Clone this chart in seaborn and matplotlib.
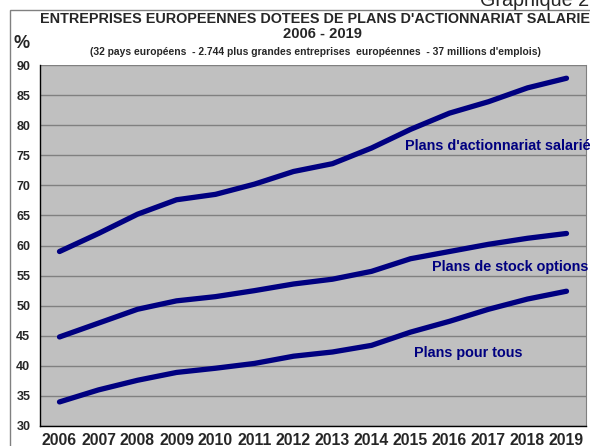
import pandas as pd
import numpy as np
import matplotlib
matplotlib.use("Agg")
import matplotlib.pyplot as plt
import seaborn as sns
from matplotlib.patches import Rectangle

# Données
annees = ["2006", "2007", "2008", "2009", "2010", "2011", "2012",
          "2013", "2014", "2015", "2016", "2017", "2018", "2019"]
actionnariat = [59.0, 62.0, 65.2, 67.6, 68.5, 70.2, 72.3,
                73.6, 76.2, 79.3, 82.0, 83.9, 86.2, 87.8]
stock_options = [44.8, 47.1, 49.4, 50.8, 51.5, 52.5, 53.6,
                 54.4, 55.7, 57.8, 59.0, 60.2, 61.2, 62.0]
pour_tous = [34.0, 36.0, 37.6, 38.9, 39.6, 40.4, 41.6,
             42.3, 43.4, 45.6, 47.4, 49.4, 51.1, 52.4]
series = ["Plans d'actionnariat salarié", "Plans de stock options", "Plans pour tous"]

df = pd.DataFrame({
    "pos": list(range(len(annees))) * 3,
    "valeur": actionnariat + stock_options + pour_tous,
    "serie": [s for s in series for _ in annees],
})

sns.set_style("white")
plt.rcParams["font.family"] = ["Liberation Sans", "DejaVu Sans"]

navy = "#000080"
fig = plt.figure(figsize=(5.9, 4.46), dpi=100)
ax = fig.add_axes([40 / 590, 20 / 446, 546 / 590, 361 / 446])
ax.set_facecolor("#c0c0c0")

sns.lineplot(data=df, x="pos", y="valeur", units="serie", estimator=None,
             color=navy, linewidth=3.8, solid_capstyle="round", ax=ax)

ax.set_xlim(-0.5, len(annees) - 0.5)
ax.set_ylim(30, 90)
ax.set_yticks(range(30, 91, 5))
ax.set_yticklabels([str(v) for v in range(30, 91, 5)], fontsize=9, fontweight="bold")
ax.set_xticks(range(len(annees)))
ax.set_xticklabels(annees, fontsize=11.3, fontweight="bold")
ax.set_xticks(np.arange(-0.5, len(annees), 1), minor=True)
ax.tick_params(axis="x", which="major", length=0, pad=5)
ax.tick_params(axis="x", which="minor", length=4, direction="out", color="black")
ax.tick_params(axis="y", length=4, direction="out", color="black", pad=3)
ax.set_xlabel("")
ax.set_ylabel("")
ax.grid(axis="y", color="#808080", linewidth=1)
ax.set_axisbelow(True)
for side in ["left", "bottom"]:
    ax.spines[side].set_color("black")
    ax.spines[side].set_linewidth(1)
ax.spines["right"].set_color("#808080")
ax.spines["top"].set_visible(False)

ax.text(8.85, 76.6, series[0], color=navy, fontsize=10.4, fontweight="bold", va="center")
ax.text(9.55, 56.4, series[1], color=navy, fontsize=10.4, fontweight="bold", va="center")
ax.text(9.1, 42.2, series[2], color=navy, fontsize=10.4, fontweight="bold", va="center")

# cadre et titres
fig.patches.append(Rectangle((10 / 590, -0.1), 1.2, (446 - 10) / 446 + 0.1,
                             transform=fig.transFigure, fill=False,
                             edgecolor="#808080", linewidth=1))
fig.text(40 / 590, 1 - 19 / 446, "ENTREPRISES EUROPEENNES DOTEES DE PLANS D'ACTIONNARIAT SALARIE",
         ha="left", va="center", fontsize=10.35, fontweight="bold")
fig.text(322 / 590, 1 - 34 / 446, "2006 - 2019", ha="center", va="center",
         fontsize=10.6, fontweight="bold")
fig.text(315 / 590, 1 - 52 / 446,
         "(32 pays européens  - 2.744 plus grandes entreprises  européennes  - 37 millions d'emplois)",
         ha="center", va="center", fontsize=7.4, fontweight="bold")
fig.text(22 / 590, 1 - 44 / 446, "%", ha="center", va="center", fontsize=13, fontweight="bold")
fig.text(480 / 590, 1 - 6 / 446, "Graphique 2", ha="left", va="baseline", fontsize=14.2)

fig.savefig("out.png", dpi=100)
